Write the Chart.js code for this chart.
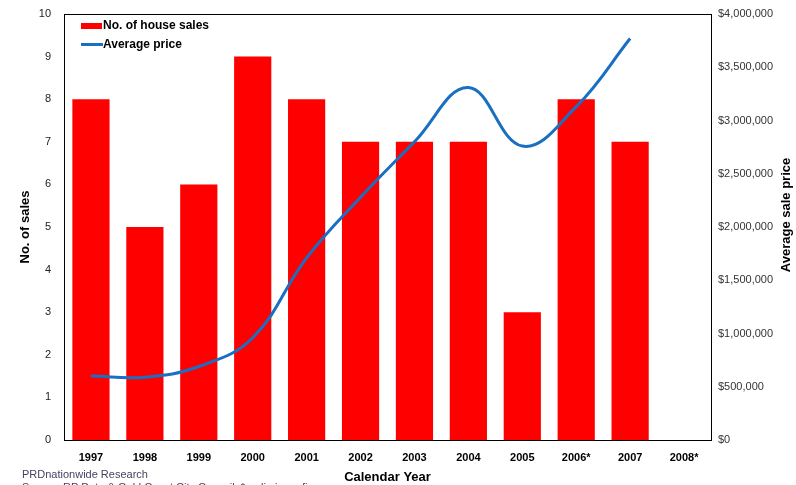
<!DOCTYPE html>
<html>
<head>
<meta charset="utf-8">
<script src="https://cdn.jsdelivr.net/npm/chart.js@4"></script>
<style>
  html, body { margin: 0; padding: 0; background: #ffffff; }
  #wrap { position: relative; width: 796px; height: 485px; }
</style>
</head>
<body>
<div id="wrap"><canvas id="c"></canvas></div>
<script>
const categories = ['1997', '1998', '1999', '2000', '2001', '2002', '2003', '2004', '2005', '2006*', '2007', '2008*'];
const houseSales = [8, 5, 6, 9, 8, 7, 7, 7, 3, 8, 7, null];
const averagePrice = [600000, 590000, 690000, 960000, 1710000, 2280000, 2800000, 3310000, 2760000, 3130000, 3770000, null];
const salesTicks = [0, 1, 2, 3, 4, 5, 6, 7, 8, 9, 10];
const priceTicks = [0, 500000, 1000000, 1500000, 2000000, 2500000, 3000000, 3500000, 4000000];

const RED = '#ff0000';
const BLUE = '#1a6fc0';
const FONT = '"Liberation Sans", Arial, sans-serif';

const decor = {
  id: 'decor',
  afterDraw(chart) {
    const ctx = chart.ctx;
    const a = chart.chartArea;
    ctx.save();
    // plot border
    ctx.strokeStyle = '#000';
    ctx.lineWidth = 1;
    ctx.strokeRect(Math.round(a.left) + 0.5, Math.round(a.top) + 0.5, Math.round(a.right - a.left), Math.round(a.bottom - a.top));

    // legend
    ctx.fillStyle = RED;
    ctx.fillRect(81, 23, 21, 6);
    ctx.strokeStyle = BLUE;
    ctx.lineWidth = 3;
    ctx.beginPath();
    ctx.moveTo(81, 44.5);
    ctx.lineTo(103, 44.5);
    ctx.stroke();
    ctx.fillStyle = '#000';
    ctx.font = 'bold 12px ' + FONT;
    ctx.textAlign = 'left';
    ctx.textBaseline = 'middle';
    ctx.fillText('No. of house sales', 103, 26);
    ctx.fillText('Average price', 103, 45);

    // axis titles
    ctx.font = 'bold 13px ' + FONT;
    ctx.textAlign = 'center';
    ctx.fillText('Calendar Year', (a.left + a.right) / 2, 477);
    ctx.save();
    ctx.translate(25, 227);
    ctx.rotate(-Math.PI / 2);
    ctx.fillText('No. of sales', 0, 0);
    ctx.restore();
    ctx.save();
    ctx.translate(786, 215);
    ctx.rotate(-Math.PI / 2);
    ctx.fillText('Average sale price', 0, 0);
    ctx.restore();

    // footer
    ctx.font = '11px ' + FONT;
    ctx.fillStyle = '#4a4060';
    ctx.textAlign = 'left';
    ctx.textBaseline = 'alphabetic';
    ctx.fillText('PRDnationwide Research', 22, 478);
    ctx.fillText('Source: RP Data & Gold Coast City Council. *preliminary figures', 22, 491);
    ctx.restore();
  }
};

function fixVert(width) {
  return function (s) {
    s.width = width;
    s.paddingTop = 0;
    s.paddingBottom = 0;
  };
}

new Chart(document.getElementById('c'), {
  data: {
    labels: categories,
    datasets: [
      {
        type: 'line',
        label: 'Average price',
        data: averagePrice,
        yAxisID: 'y1',
        borderColor: BLUE,
        borderWidth: 3,
        pointRadius: 0,
        tension: 0.4,
        fill: false,
        order: 0
      },
      {
        type: 'bar',
        label: 'No. of house sales',
        data: houseSales,
        yAxisID: 'y',
        backgroundColor: RED,
        borderWidth: 0,
        barPercentage: 0.69,
        categoryPercentage: 1.0,
        order: 1
      }
    ]
  },
  options: {
    responsive: true,
    maintainAspectRatio: false,
    animation: false,
    layout: { padding: { top: 14, left: 0, right: 0, bottom: 0 } },
    plugins: {
      legend: { display: false },
      tooltip: { enabled: false }
    },
    scales: {
      x: {
        grid: { display: false, drawTicks: false },
        border: { display: false },
        ticks: { color: '#000', font: { family: FONT, size: 11, weight: 'bold' }, padding: 11, maxRotation: 0 },
        afterFit(s) { s.height = 45; s.paddingLeft = 0; s.paddingRight = 0; }
      },
      y: {
        position: 'left',
        min: 0, max: 10,
        afterBuildTicks(s) { s.ticks = salesTicks.map(v => ({ value: v })); },
        grid: { display: false, drawTicks: false },
        border: { display: false },
        ticks: { color: '#222', font: { family: FONT, size: 11 }, padding: 13 },
        afterFit: fixVert(64)
      },
      y1: {
        position: 'right',
        min: 0, max: 4000000,
        afterBuildTicks(s) { s.ticks = priceTicks.map(v => ({ value: v })); },
        grid: { display: false, drawTicks: false },
        border: { display: false },
        ticks: {
          color: '#333',
          font: { family: FONT, size: 11 },
          padding: 7,
          callback: v => '$' + Number(v).toLocaleString('en-US')
        },
        afterFit: fixVert(85)
      }
    }
  },
  plugins: [decor]
});
</script>
</body>
</html>
